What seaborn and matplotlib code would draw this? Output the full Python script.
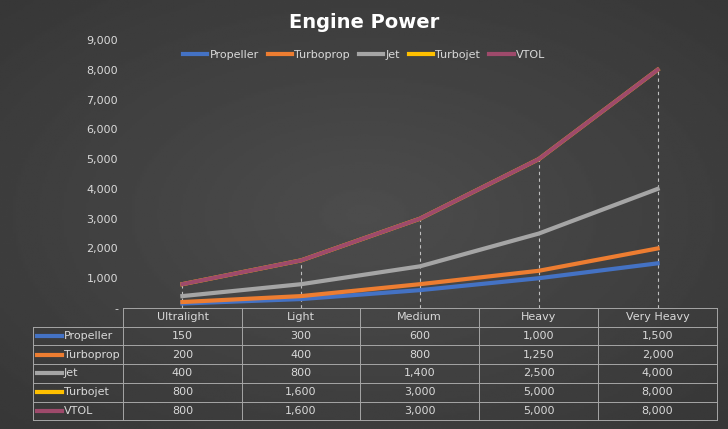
import numpy as np
import pandas as pd
import seaborn as sns
import matplotlib.pyplot as plt
from matplotlib.lines import Line2D

categories = ["Ultralight", "Light", "Medium", "Heavy", "Very Heavy"]
series_names = ["Propeller", "Turboprop", "Jet", "Turbojet", "VTOL"]
propeller = [150, 300, 600, 1000, 1500]
turboprop = [200, 400, 800, 1250, 2000]
jet = [400, 800, 1400, 2500, 4000]
turbojet = [800, 1600, 3000, 5000, 8000]
vtol = [800, 1600, 3000, 5000, 8000]
colors = ["#4472C4", "#ED7D31", "#A5A5A5", "#FFC000", "#9E4A6B"]

values = [propeller, turboprop, jet, turbojet, vtol]
df = pd.DataFrame({"category": categories * 5,
                   "series": np.repeat(series_names, 5),
                   "value": np.concatenate(values)})
df["x"] = np.tile(np.arange(5), 5)

W, H = 728, 429
fig = plt.figure(figsize=(W / 100, H / 100), dpi=100)
# dark radial-ish background
bg = fig.add_axes([0, 0, 1, 1])
yy, xx = np.mgrid[0:1:200j, 0:1:300j]
r = np.sqrt((xx - 0.5) ** 2 + (yy - 0.5) ** 2)
bg.imshow(0.30 - 0.12 * r, cmap="gray", vmin=0, vmax=1, aspect="auto", extent=[0, 1, 0, 1])
bg.axis("off")

L, R, T, B = 123 / W, 717 / W, 1 - 40 / H, 1 - 308 / H
ax = fig.add_axes([L, B, R - L, T - B])
ax.patch.set_alpha(0)
sns.lineplot(data=df, x="x", y="value", hue="series", palette=colors, linewidth=3,
             ax=ax, legend=False, sort=False)
ax.set_xlim(-0.5, 4.5)
ax.set_ylim(0, 9000)
maxv = np.max(values, axis=0)
ax.vlines(np.arange(5), 0, maxv, colors="#BFBFBF", linestyles=(0, (3, 3)), linewidth=0.8, zorder=0)
ax.set_yticks(range(0, 9001, 1000))
ax.set_yticklabels(["-"] + [f"{v:,}" for v in range(1000, 9001, 1000)], color="#D9D9D9", fontsize=8)
ax.set_xticks([])
ax.set_xlabel("")
ax.set_ylabel("")
ax.tick_params(axis="y", length=0)
for s in ax.spines.values():
    s.set_visible(False)

fig.text(0.5, 1 - 22 / H, "Engine Power", color="white", fontsize=14, fontweight="bold", ha="center", va="center")
handles = [Line2D([], [], color=c, lw=3) for c in colors]
fig.legend(handles, series_names, loc="center", bbox_to_anchor=(0.5, 1 - 55 / H), ncol=5, frameon=False,
           fontsize=8, labelcolor="#D9D9D9", handlelength=2.2, columnspacing=0.8, handletextpad=0.2)

# data table
col_x = [123, 242, 360, 479, 598, 717]
row_y = [308 + i * 18.7 for i in range(7)]
lc = "#A6A6A6"
def fx(p): return p / W
def fy(p): return 1 - p / H
for x in col_x:
    bg.plot([fx(x)] * 2, [fy(308), fy(row_y[-1])], color=lc, lw=0.7)
bg.plot([fx(33)] * 2, [fy(row_y[1]), fy(row_y[-1])], color=lc, lw=0.7)
for i, y in enumerate(row_y):
    x0 = 123 if i == 0 else 33
    bg.plot([fx(x0), fx(717)], [fy(y)] * 2, color=lc, lw=0.7)
bg.set_xlim(0, 1)
bg.set_ylim(0, 1)
for j, c in enumerate(categories):
    cx = (col_x[j] + col_x[j + 1]) / 2
    fig.text(fx(cx), fy((row_y[0] + row_y[1]) / 2), c, color="#D9D9D9", fontsize=8, ha="center", va="center")
for i, (name, vals, c) in enumerate(zip(series_names, values, colors)):
    cy = (row_y[i + 1] + row_y[i + 2]) / 2
    bg.plot([fx(37), fx(62)], [fy(cy)] * 2, color=c, lw=3)
    fig.text(fx(64), fy(cy), name, color="#D9D9D9", fontsize=8, ha="left", va="center")
    for j, v in enumerate(vals):
        cx = (col_x[j] + col_x[j + 1]) / 2
        fig.text(fx(cx), fy(cy), f"{v:,}", color="#D9D9D9", fontsize=8, ha="center", va="center")

fig.savefig("out.png", dpi=100)
